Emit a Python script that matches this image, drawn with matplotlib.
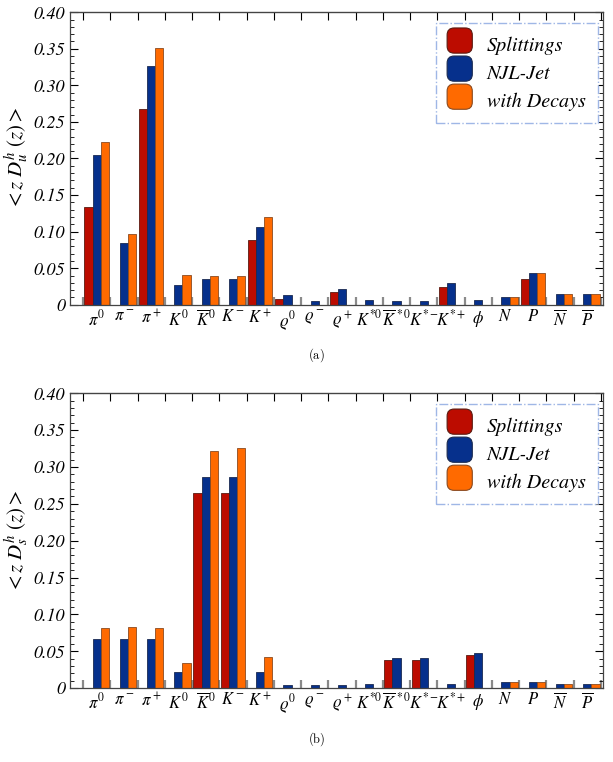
import numpy as np
import matplotlib
matplotlib.use("Agg")
import matplotlib.pyplot as plt
from matplotlib.patches import FancyBboxPatch, Patch
from matplotlib.legend_handler import HandlerPatch

plt.rcParams['font.family'] = 'STIXGeneral'
plt.rcParams['mathtext.fontset'] = 'stix'

hadrons = [r'$\pi^0$', r'$\pi^-$', r'$\pi^+$', r'$K^0$', r'$\overline{K}^{\,0}$',
           r'$K^-$', r'$K^+$', r'$\varrho^0$', r'$\varrho^-$', r'$\varrho^+$',
           r'$K^{*0}$', r'$\overline{K}^{\,*0}$', r'$K^{*-}$', r'$K^{*+}$', r'$\phi$',
           r'$N$', r'$P$', r'$\overline{N}$', r'$\overline{P}$']

# u quark (a)
u_split = [0.134, 0, 0.268, 0, 0, 0, 0.088, 0.008, 0, 0.017,
           0, 0, 0, 0.024, 0, 0, 0.035, 0, 0]
u_njl = [0.205, 0.084, 0.326, 0.027, 0.035, 0.035, 0.107, 0.013, 0.005, 0.021,
         0.007, 0.005, 0.005, 0.030, 0.006, 0.011, 0.043, 0.015, 0.015]
u_decay = [0.223, 0.097, 0.351, 0.041, 0.039, 0.040, 0.120, 0, 0, 0,
           0, 0, 0, 0, 0, 0.011, 0.043, 0.015, 0.015]

# s quark (b)
s_split = [0, 0, 0, 0, 0.265, 0.265, 0, 0, 0, 0,
           0, 0.038, 0.038, 0, 0.045, 0, 0, 0, 0]
s_njl = [0.067, 0.067, 0.067, 0.022, 0.286, 0.286, 0.022, 0.004, 0.004, 0.004,
         0.006, 0.041, 0.041, 0.006, 0.048, 0.008, 0.008, 0.005, 0.005]
s_decay = [0.081, 0.083, 0.082, 0.034, 0.321, 0.326, 0.042, 0, 0, 0,
           0, 0, 0, 0, 0, 0.008, 0.008, 0.005, 0.005]

series_names = ['Splittings', 'NJL-Jet', 'with Decays']
colors = ['#BC0C00', '#06308C', '#FF6A00']
edges = ['#5a1a10', '#1a2a50', '#8a4a20']


class RoundHandler(HandlerPatch):
    def create_artists(self, legend, orig_handle, xdescent, ydescent,
                       width, height, fontsize, trans):
        s = height * 1.45
        p = FancyBboxPatch((xdescent + (width - s) / 2, ydescent + (height - s) / 2),
                           s, s, boxstyle='round,pad=0,rounding_size=%f' % (s * 0.28),
                           facecolor=orig_handle.get_facecolor(),
                           edgecolor=orig_handle.get_edgecolor(), lw=0.8,
                           transform=trans)
        return [p]


def panel(ax, data, ylab):
    x = np.arange(len(hadrons))
    w = 0.3
    for k, vals in enumerate(data):
        vals = np.array(vals, dtype=float)
        m = vals > 0
        ax.bar(x[m] + (k - 1) * w, vals[m], width=w, color=colors[k],
               edgecolor=edges[k], linewidth=0.6, zorder=2)
    ax.set_xlim(-0.98, 18.58)
    ax.set_ylim(0, 0.40)
    ax.set_xticks(x)
    ax.set_xticklabels(hadrons, fontsize=12)
    bounds = np.arange(-0.5, len(hadrons), 1.0)
    ax.set_xticks(bounds, minor=True)
    ax.tick_params(axis='x', which='major', length=0, pad=3)
    ax.tick_params(axis='x', which='minor', direction='in', length=6, width=1.6,
                   color='#8a8a8a', bottom=True, top=False)
    sec = ax.secondary_xaxis('top')
    sec.set_xticks(bounds)
    sec.tick_params(direction='in', length=6, width=0.8, labeltop=False)
    yt = np.arange(0, 0.401, 0.05)
    ax.set_yticks(yt)
    ax.set_yticklabels(['0'] + ['%.2f' % v for v in yt[1:]], fontsize=13, style='italic')
    ax.set_yticks(np.arange(0, 0.401, 0.01), minor=True)
    ax.tick_params(axis='y', which='major', direction='in', length=6, width=0.8,
                   left=True, right=True)
    ax.tick_params(axis='y', which='minor', direction='in', length=3, width=0.6,
                   left=True, right=True)
    for sp in ax.spines.values():
        sp.set_linewidth(0.9)
        sp.set_color('#444444')
    ax.set_ylabel(ylab, fontsize=15, labelpad=2)
    handles = [Patch(facecolor=colors[k], edgecolor=edges[k], label=series_names[k])
               for k in range(3)]
    leg = ax.legend(handles=handles, loc='upper right', bbox_to_anchor=(0.99, 0.962),
                    prop={'family': 'STIXGeneral', 'style': 'italic', 'size': 14.5},
                    handler_map={Patch: RoundHandler()}, handlelength=1.2,
                    handleheight=0.95, handletextpad=0.75, labelspacing=0.42,
                    borderpad=0.6, borderaxespad=0, fancybox=False, framealpha=1)
    fr = leg.get_frame()
    fr.set_edgecolor('#9fb7e6')
    fr.set_linestyle('-.')
    fr.set_linewidth(1.0)


fig = plt.figure(figsize=(6.13, 7.62), dpi=100)
ax1 = fig.add_axes([0.114, 0.600, 0.870, 0.384])
ax2 = fig.add_axes([0.114, 0.097, 0.870, 0.387])

panel(ax1, [u_split, u_njl, u_decay], r'$<z\ D_u^h\ (z)>$')
panel(ax2, [s_split, s_njl, s_decay], r'$<z\ D_s^h\ (z)>$')

fig.text(0.516, 0.534, r'$\mathrm{(a)}$', ha='center', va='center', fontsize=9,
         math_fontfamily='cm')
fig.text(0.516, 0.030, r'$\mathrm{(b)}$', ha='center', va='center', fontsize=9,
         math_fontfamily='cm')

fig.savefig('out.png', dpi=100)
